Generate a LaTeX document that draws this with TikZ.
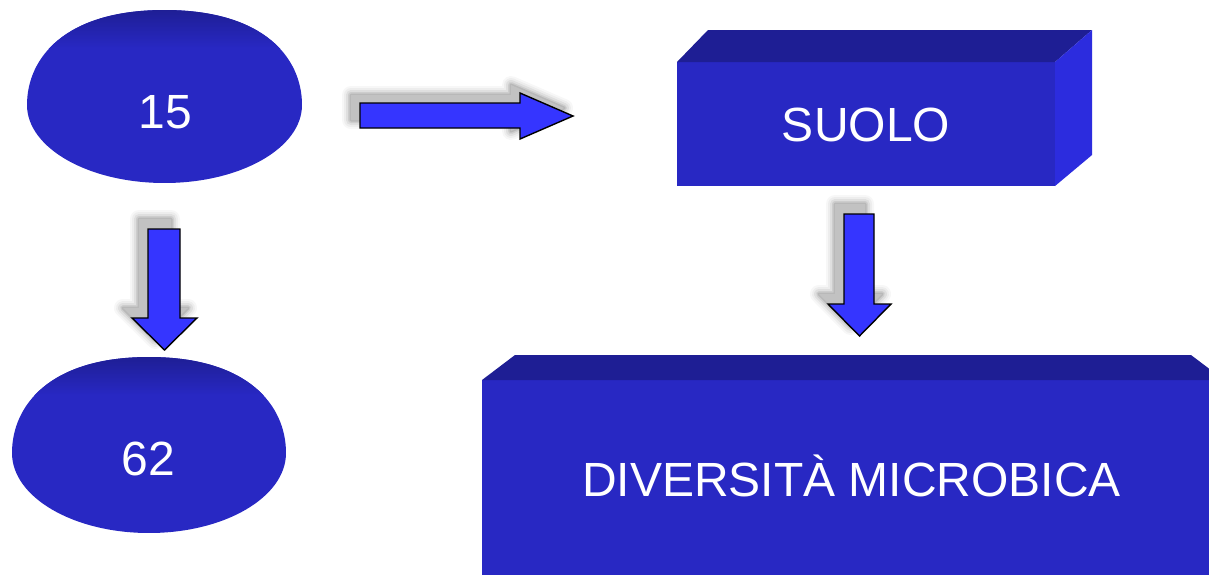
\documentclass[tikz,border=0pt]{standalone}
\usepackage{fontspec}
\setmainfont{Liberation Sans}
\definecolor{bodyblue}{HTML}{2828C3}
\definecolor{topblue}{HTML}{1E1E94}
\definecolor{sideblue}{HTML}{2C2CDE}
\definecolor{arrowblue}{HTML}{3535FF}
\tikzset{
  lbl/.style={text=white, font=\fontsize{48}{56}\selectfont, inner sep=0pt, anchor=base},
  blockarrow/.style={fill=arrowblue, draw=black, line width=1.4pt, line join=miter},
  shadowfill/.style={fill=black!24},
}
\newcommand\mydome[5]{% cx ytop yw ybot rx
  \pgfmathsetmacro\dL{#1-#5}\pgfmathsetmacro\dR{#1+#5}%
  \pgfmathsetmacro\kx{0.5523*#5}%
  \pgfmathsetmacro\kux{0.72*#5}%
  \pgfmathsetmacro\ku{0.5*(#3-#2)}%
  \pgfmathsetmacro\kly{0.5523*(#4-#3)}%
  \begin{scope}
    \clip (\dL,#3)
      .. controls (\dL,{#3-\ku}) and ({#1-\kux},#2) .. (#1,#2)
      .. controls ({#1+\kux},#2) and (\dR,{#3-\ku}) .. (\dR,#3)
      .. controls (\dR,{#3+\kly}) and ({#1+\kx},#4) .. (#1,#4)
      .. controls ({#1-\kx},#4) and (\dL,{#3+\kly}) .. (\dL,#3) -- cycle;
    \fill[bodyblue] (\dL,#2) rectangle (\dR,#4);
    \shade[top color=topblue, bottom color=bodyblue] (\dL,{#2-1}) rectangle (\dR,{#2+38});
  \end{scope}
}
\def\pathA{(360,103) -- (520,103) -- (520,93) -- (573,116) -- (520,139) -- (520,128) -- (360,128) -- cycle}
\def\pathB{(148,229) -- (180,229) -- (180,318) -- (197,318) -- (164.5,350) -- (132,318) -- (148,318) -- cycle}
\def\pathC{(844,214) -- (874,214) -- (874,304) -- (891,304) -- (859.5,336) -- (828,304) -- (844,304) -- cycle}
\newcommand\softshadow[2]{% path, shift
  \begin{scope}[shift={#2}]
    \foreach \w/\o in {18/0.03,14/0.04,10/0.06,6/0.08,3/0.1}{
      \draw[black, line width=\w pt, opacity=\o, line join=round] #1;
    }
    \fill[shadowfill] #1;
  \end{scope}
}
\begin{document}
\begin{tikzpicture}[x=1pt,y=-1pt]
  \useasboundingbox (0,0) rectangle (1209,574);
  \clip (0,0) rectangle (1209,574);
  \fill[white] (0,0) rectangle (1209,574);

  % domes
  \mydome{164.5}{10}{105}{183}{137.5}
  \node[lbl] (n15) at (165.5,128.5) {15};
  \mydome{149}{357}{453}{533}{137}
  \node[lbl] (n62) at (148.5,475) {62};

  % SUOLO box
  \fill[bodyblue] (677,62) rectangle (1055,186);
  \fill[topblue] (677,62) -- (708,30) -- (1092,30) -- (1055,62) -- cycle;
  \fill[sideblue] (1055,62) -- (1092,30) -- (1092,155) -- (1055,186) -- cycle;
  \node[lbl] (suolo) at (866,141.5) {SUOLO};

  % DIVERSITA box
  \fill[bodyblue] (482,380) rectangle (1224,600);
  \fill[topblue] (482,380) -- (515,355) -- (1191,355) -- (1224,380) -- cycle;
  \node[lbl] (div) at (851.5,496.5) {DIVERSITÀ MICROBICA};

  % block arrows with shadows
  \softshadow{\pathA}{(-9,-8)}
  \draw[blockarrow] \pathA;
  \softshadow{\pathB}{(-9,-10)}
  \draw[blockarrow] \pathB;
  \softshadow{\pathC}{(-9,-10)}
  \draw[blockarrow] \pathC;
\end{tikzpicture}
\end{document}
